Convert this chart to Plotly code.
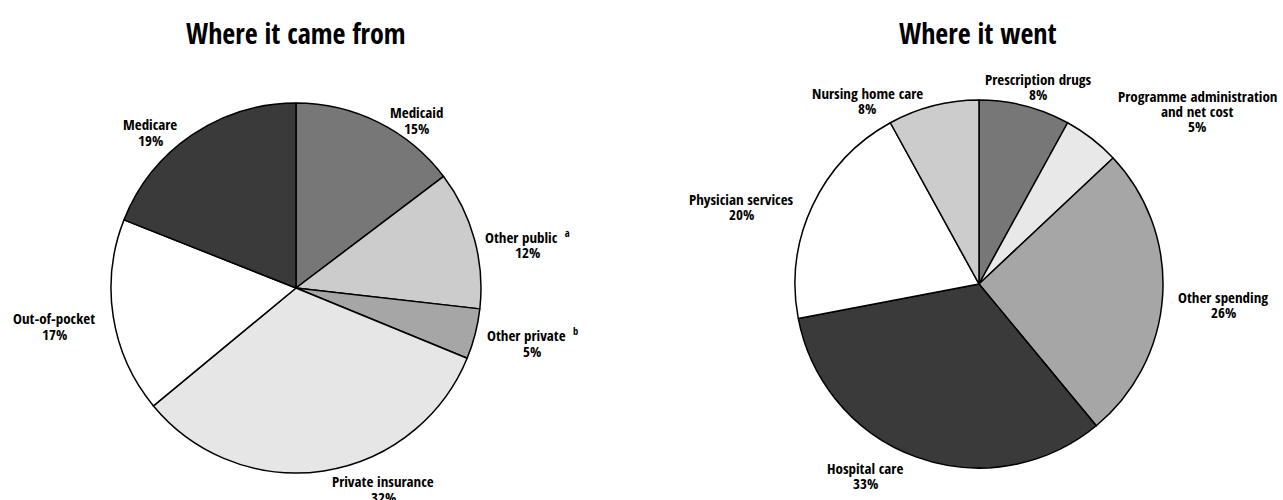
import plotly.graph_objects as go

W, H = 1283, 500

# ---- data ----
src_labels = ["Medicaid", "Other public", "Other private", "Private insurance", "Out-of-pocket", "Medicare"]
src_values = [14.7, 12.1, 4.4, 32.8, 17.0, 19.0]
src_pct_text = ["15%", "12%", "5%", "32%", "17%", "19%"]
src_colors = ["#777777", "#cccccc", "#a6a6a6", "#e6e6e6", "#ffffff", "#3a3a3a"]

use_labels = ["Prescription drugs", "Programme administration<br>and net cost", "Other spending",
              "Hospital care", "Physician services", "Nursing home care"]
use_values = [8, 5, 26, 33, 20, 8]
use_pct_text = ["8%", "5%", "26%", "33%", "20%", "8%"]
use_colors = ["#777777", "#e8e8e8", "#a6a6a6", "#3a3a3a", "#ffffff", "#cccccc"]

titles = ["Where it came from", "Where it went"]

FONT = "Open Sans Condensed, Roboto Condensed, sans-serif"


def dom_x(a, b):
    return [a / W, b / W]


def dom_y(top, bottom):
    return [(H - bottom) / H, (H - top) / H]


fig = go.Figure()
fig.add_trace(go.Pie(
    labels=src_labels, values=src_values, sort=False, direction="clockwise", rotation=0,
    marker=dict(colors=src_colors, line=dict(color="black", width=1.5)),
    textinfo="none", hoverinfo="label+percent", showlegend=False,
    domain=dict(x=dom_x(111, 481), y=dom_y(103, 473)),
))
fig.add_trace(go.Pie(
    labels=use_labels, values=use_values, sort=False, direction="clockwise", rotation=0,
    marker=dict(colors=use_colors, line=dict(color="black", width=1.5)),
    textinfo="none", hoverinfo="label+percent", showlegend=False,
    domain=dict(x=dom_x(795, 1163), y=dom_y(100, 468)),
))

ann = []


def add_text(x, y, text, size=15):
    ann.append(dict(x=x / W, y=(H - y) / H, xref="paper", yref="paper", text=text,
                    showarrow=False, xanchor="center", yanchor="middle",
                    font=dict(family=FONT, size=size, color="black")))


# titles
add_text(296, 33, "<b>" + titles[0] + "</b>", 28)
add_text(978, 33, "<b>" + titles[1] + "</b>", 28)

# left pie labels: (x, name y, pct y)
src_pos = [
    (416, 112, 128),
    (527, 236, 252),
    (532, 335, 351),
    (383, 481, 497),
    (54, 318, 334),
    (150, 124, 140),
]
src_sup = ["", "  <sup>a</sup>", "  <sup>b</sup>", "", "", ""]
for lab, pct, sup, (x, y1, y2) in zip(src_labels, src_pct_text, src_sup, src_pos):
    add_text(x, y1, "<b>" + lab + sup + "</b>")
    add_text(x, y2, "<b>" + pct + "</b>")

use_pos = [
    (1038, [79], 94),
    (1197, [96, 111], 126),
    (1223, [297], 312),
    (865, [468], 483),
    (741, [199], 214),
    (867, [93], 108),
]
for lab, pct, (x, ys, y2) in zip(use_labels, use_pct_text, use_pos):
    for line, yy in zip(lab.split("<br>"), ys):
        add_text(x, yy, "<b>" + line + "</b>")
    add_text(x, y2, "<b>" + pct + "</b>")

fig.update_layout(
    width=W, height=H, margin=dict(l=0, r=0, t=0, b=0),
    paper_bgcolor="white", plot_bgcolor="white",
    annotations=ann,
)

fig.write_html("out.html")
